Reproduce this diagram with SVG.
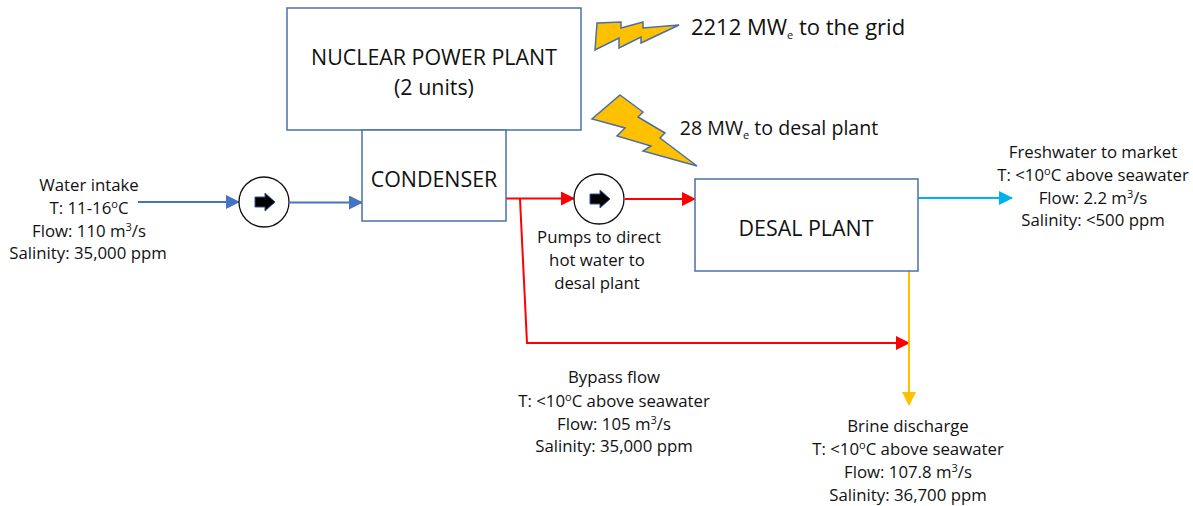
<svg xmlns="http://www.w3.org/2000/svg" width="1193" height="506" viewBox="0 0 1193 506">
<style>
text{font-family:"Open Sans","Noto Sans","DejaVu Sans",sans-serif;fill:#111;text-anchor:middle}
.s{font-size:16.800px}
.m{font-size:21.400px}
.box{fill:#fff;stroke:#4a6fa8;stroke-width:1.5}
.bolt{fill:#ffc000;stroke:#4a6fa8;stroke-width:1.5}
.pump{fill:#fff;stroke:#111;stroke-width:1.3}
.parr{fill:#000;stroke:#2f528f;stroke-width:1}
.c{fill:none;stroke-width:2}
.sup{font-size:11px}
</style>
<defs>
<marker id="ab" markerUnits="userSpaceOnUse" markerWidth="14" markerHeight="14" refX="13" refY="7" orient="auto"><path d="M0 0L14 7L0 14Z" fill="#4472c4"/></marker>
<marker id="ar" markerUnits="userSpaceOnUse" markerWidth="14" markerHeight="14" refX="13" refY="7" orient="auto"><path d="M0 0L14 7L0 14Z" fill="#f00"/></marker>
<marker id="ac" markerUnits="userSpaceOnUse" markerWidth="14" markerHeight="14" refX="13" refY="7" orient="auto"><path d="M0 0L14 7L0 14Z" fill="#00b0f0"/></marker>
<marker id="ay" markerUnits="userSpaceOnUse" markerWidth="14" markerHeight="14" refX="13" refY="7" orient="auto"><path d="M0 0L14 7L0 14Z" fill="#ffc000"/></marker>
</defs>
<g id="connectors">
<path class="c" stroke="#4472c4" marker-end="url(#ab)" d="M138 202H239"/>
<path class="c" stroke="#4472c4" marker-end="url(#ab)" d="M290 202.500H362"/>
<path class="c" stroke="#f00" marker-end="url(#ar)" d="M506 198.500H574"/>
<path class="c" stroke="#f00" marker-end="url(#ar)" d="M625 199H695"/>
<path class="c" stroke="#f00" marker-end="url(#ar)" d="M520 199L527 343H909"/>
<path class="c" stroke="#00b0f0" marker-end="url(#ac)" d="M918 198H1012"/>
<path class="c" stroke="#ffc000" marker-end="url(#ay)" d="M909 271V405"/>
</g>
<g id="nuclear-plant"><rect class="box" x="287" y="8" width="294" height="122"/>
<text class="m" x="434" y="65">NUCLEAR POWER PLANT</text><text class="m" x="434" y="95">(2 units)</text></g>
<g id="condenser"><rect class="box" x="362" y="130" width="144" height="91"/><text class="m" x="434" y="187">CONDENSER</text></g>
<g id="desal-plant"><rect class="box" x="695" y="179" width="223" height="92"/><text class="m" x="806" y="236">DESAL PLANT</text></g>
<g id="pump-1"><circle class="pump" cx="264" cy="202" r="25"/><path class="parr" d="M255 197H265V193L275 202L265 211V207H255Z"/></g>
<g id="pump-2"><circle class="pump" cx="599" cy="199" r="25"/><path class="parr" d="M590 194H600V190L610 199L600 208V204H590Z"/></g>
<g id="bolt-grid"><path class="bolt" d="M597 23L621 22V28L643 22V28L679 25L641 43V37L619 48V38L595 50Z"/>
<text x="798" y="35" style="font-size:22px">2212 MW<tspan class="sup" dy="4">e</tspan><tspan dy="-4"> to the grid</tspan></text></g>
<g id="bolt-desal"><path class="bolt" d="M620 95L643 112L638 117L665 133L660 138L697 166L643 151L651 146L617 136L625 128L592 119Z"/>
<text x="779" y="135" style="font-size:19.600px">28 MW<tspan class="sup" dy="4">e</tspan><tspan dy="-4"> to desal plant</tspan></text></g>
<g id="label-intake" class="s"><text x="89" y="191">Water intake</text><text x="89" y="214">T: 11-16<tspan class="sup" dy="-6">o</tspan><tspan dy="6">C</tspan></text><text x="89" y="237">Flow: 110 m<tspan class="sup" dy="-6">3</tspan><tspan dy="6">/s</tspan></text><text x="88" y="259">Salinity: 35,000 ppm</text></g>
<g id="label-pumps" class="s"><text x="599" y="243">Pumps to direct</text><text x="597" y="266">hot water to</text><text x="597" y="289">desal plant</text></g>
<g id="label-fresh" class="s"><text x="1093" y="158">Freshwater to market</text><text x="1093" y="181">T: &lt;10<tspan class="sup" dy="-6">o</tspan><tspan dy="6">C above seawater</tspan></text><text x="1093" y="204">Flow: 2.2 m<tspan class="sup" dy="-6">3</tspan><tspan dy="6">/s</tspan></text><text x="1093" y="226">Salinity: &lt;500 ppm</text></g>
<g id="label-bypass" class="s"><text x="614" y="383">Bypass flow</text><text x="614" y="407">T: &lt;10<tspan class="sup" dy="-6">o</tspan><tspan dy="6">C above seawater</tspan></text><text x="614" y="430">Flow: 105 m<tspan class="sup" dy="-6">3</tspan><tspan dy="6">/s</tspan></text><text x="614" y="452">Salinity: 35,000 ppm</text></g>
<g id="label-brine" class="s"><text x="908" y="432">Brine discharge</text><text x="908" y="455">T: &lt;10<tspan class="sup" dy="-6">o</tspan><tspan dy="6">C above seawater</tspan></text><text x="908" y="478">Flow: 107.8 m<tspan class="sup" dy="-6">3</tspan><tspan dy="6">/s</tspan></text><text x="908" y="501">Salinity: 36,700 ppm</text></g>
</svg>
